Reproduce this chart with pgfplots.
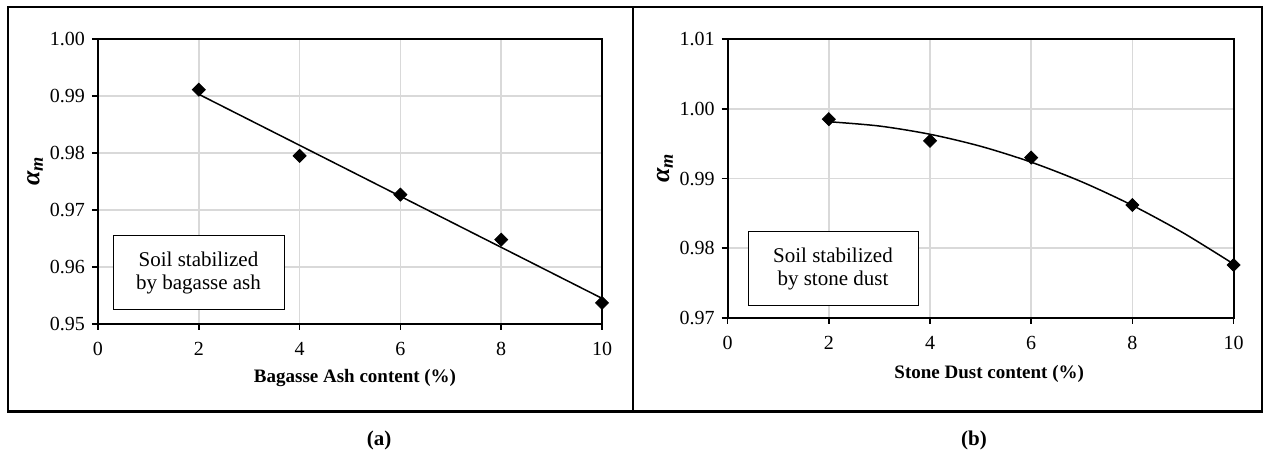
\documentclass[border=0pt]{standalone}
\usepackage{fontspec}
\setmainfont{Liberation Serif}
\usepackage{pgfplots}
\pgfplotsset{compat=1.18}
\definecolor{gridgray}{RGB}{217,217,217}
\pgfplotsset{
  panel/.style={
    scale only axis,
    xmin=0, xmax=10, xtick={0,2,4,6,8,10},
    grid=major,
    major grid style={gridgray, line width=0.8pt},
    axis line style={black, line width=1pt},
    tick style={black, line width=0.8pt},
    tick align=outside, tick pos=left, major tick length=3pt,
    /pgf/number format/assume math mode=true,
    ticklabel style={font=\fontsize{10}{12}\selectfont},
    xticklabel style={yshift=-2.5pt},
    yticklabel style={/pgf/number format/.cd, fixed, fixed zerofill, precision=2},
    xlabel style={font=\bfseries\fontsize{9.5}{11}\selectfont, anchor=center},
    ylabel style={font=\bfseries\itshape\fontsize{13}{15}\selectfont, anchor=center, rotate=0},
    clip=false,
  },
  mk/.style={only marks, mark=square*, mark size=2.3pt, mark options={rotate=45, fill=black, draw=black}, black},
  fit/.style={black, line width=0.75pt, no marks},
}
\begin{document}
\begin{tikzpicture}
\path[use as bounding box] (0,0) rectangle (634pt,226.5pt);
% panel (a)
\begin{axis}[panel, at={(49pt,64.5pt)}, anchor=south west,
  width=252pt, height=142.5pt,
  ymin=0.95, ymax=1.00, ytick={0.95,0.96,0.97,0.98,0.99,1.00},
  xlabel={Bagasse Ash content (\%)},
  xlabel style={at={(axis description cs:0.51,-0.19)}},
  ylabel={α\textsubscript{m}},
  ylabel style={at={(axis description cs:-0.125,0.537)}}]
\addplot[fit] coordinates {(2,0.9903) (10,0.9545)};
\addplot[mk] coordinates {(2,0.9911) (4,0.9795) (6,0.9727) (8,0.9648) (10,0.9537)};
\end{axis}
% panel (b)
\begin{axis}[panel, at={(363.8pt,67.5pt)}, anchor=south west,
  width=253pt, height=139.5pt,
  ymin=0.97, ymax=1.01, ytick={0.97,0.98,0.99,1.00,1.01},
  xlabel={Stone Dust content (\%)},
  xlabel style={at={(axis description cs:0.517,-0.2)}},
  ylabel={α\textsubscript{m}},
  ylabel style={at={(axis description cs:-0.124,0.538)}}]
\addplot[fit, smooth] coordinates {(2,0.99814) (3,0.99752) (4,0.99634) (5,0.99462) (6,0.99234) (7,0.98952) (8,0.98614) (9,0.98222) (10,0.97774)};
\addplot[mk] coordinates {(2,0.9985) (4,0.9954) (6,0.9930) (8,0.9862) (10,0.9776)};
\end{axis}
% text boxes
\node[draw=black, line width=0.5pt, fill=white, minimum width=85.5pt, minimum height=37pt, align=center,
  font=\fontsize{10.5}{11.5}\selectfont] at (99.25pt,90pt) {Soil stabilized\\by bagasse ash};
\node[draw=black, line width=0.5pt, fill=white, minimum width=85pt, minimum height=37pt, align=center,
  font=\fontsize{10.5}{11.5}\selectfont] at (416.5pt,92pt) {Soil stabilized\\by stone dust};
% frame
\draw[black, line width=1.1pt] (4pt,20.5pt) rectangle (631pt,223pt);
\draw[black, line width=1.5pt] (4pt,20.5pt) -- (631pt,20.5pt);
\draw[black, line width=0.8pt] (316.5pt,20.5pt) -- (316.5pt,223pt);
% captions
\node[font=\bfseries\fontsize{10.5}{12}\selectfont] at (189.5pt,6.5pt) {(a)};
\node[font=\bfseries\fontsize{10.5}{12}\selectfont] at (487pt,6.5pt) {(b)};
\end{tikzpicture}
\end{document}
